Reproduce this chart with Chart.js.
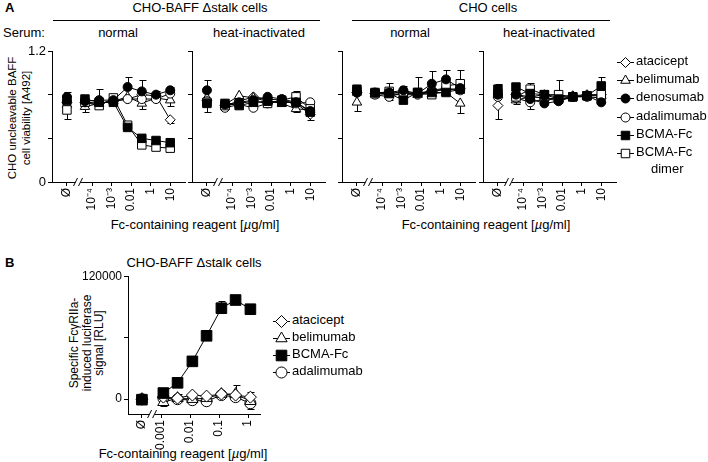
<!DOCTYPE html>
<html>
<head>
<meta charset="utf-8">
<script src="https://cdn.jsdelivr.net/npm/chart.js@4.4.1/dist/chart.umd.min.js"></script>
<style>
body { margin: 0; background: #fff; width: 708px; height: 462px; position: relative; overflow: hidden;
       font-family: 'Liberation Sans', Arial, sans-serif; color: #000; }
.t { position: absolute; white-space: nowrap; font-size: 13px; line-height: 13px; }
.c { transform: translateX(-50%); }
.rule { position: absolute; height: 0; border-top: 1px solid #000; }
.rot { position: absolute; transform: translate(-50%, -50%) rotate(-90deg); text-align: center; white-space: nowrap; }
canvas { position: absolute; }
.leg { position: absolute; font-size: 13px; line-height: 13px; white-space: nowrap; }
.leg canvas { position: static; vertical-align: middle; margin-right: 2px; }
</style>
</head>
<body>

<div class="t" style="left:5px;top:1px;font-weight:bold">A</div>
<div class="t c" style="left:200px;top:1px">CHO-BAFF Δstalk cells</div>
<div class="rule" style="left:53px;width:267px;top:20px"></div>
<div class="t c" style="left:488px;top:1px">CHO cells</div>
<div class="rule" style="left:352px;width:258px;top:20px"></div>
<div class="t" style="left:3px;top:26px">Serum:</div>
<div class="t c" style="left:118px;top:26px">normal</div>
<div class="t c" style="left:259px;top:26px">heat-inactivated</div>
<div class="t c" style="left:410px;top:26px">normal</div>
<div class="t c" style="left:549px;top:26px">heat-inactivated</div>
<div class="rot" style="left:19px;top:118px;font-size:11.5px;line-height:14px">CHO uncleavable BAFF<br>cell viability [A492]</div>
<div class="t c" style="left:195px;top:218px">Fc-containing reagent [<i>µ</i>g/ml]</div>
<div class="t c" style="left:486px;top:218px">Fc-containing reagent [<i>µ</i>g/ml]</div>

<div class="t" style="left:5px;top:256px;font-weight:bold">B</div>
<div class="t c" style="left:194px;top:256px">CHO-BAFF Δstalk cells</div>
<div class="rot" style="left:87px;top:343px;font-size:12px;line-height:12.5px">Specific FcγRIIa-<br>induced luciferase<br>signal [RLU]</div>
<div class="t c" style="left:183px;top:447px">Fc-containing reagent [<i>µ</i>g/ml]</div>

<script>
// Panel A: cell viability, series and dilution steps
const seriesA = ['atacicept', 'belimumab', 'denosumab', 'adalimumab', 'BCMA-Fc', 'BCMA-Fc dimer'];
const aDosePos = [-0.27, 1, 2, 3, 4, 5, 6, 7];   // first = Ø (no reagent), then the dilution steps
const aTickPos = [-0.27, 1.5, 2.87, 4.25, 5.62, 7];
const aTickLabels = ['Ø', '10⁻⁴', '10⁻³', '0.01', '1', '10'];
const aYTicks = [0, 0.4, 0.8, 1.2];

// CHO-BAFF Δstalk, normal serum
const a1Values = [
  [0.73, 0.73, 0.72, 0.74, 0.76, 0.80, 0.79, 0.57],
  [0.71, 0.69, 0.72, 0.74, 0.78, 0.72, 0.77, 0.75],
  [0.78, 0.74, 0.75, 0.75, 0.87, 0.83, 0.80, 0.84],
  [0.74, 0.73, 0.72, 0.74, 0.76, 0.76, 0.76, 0.81],
  [0.75, 0.76, 0.73, 0.73, 0.50, 0.40, 0.38, 0.36],
  [0.66, 0.73, 0.70, 0.77, 0.52, 0.34, 0.32, 0.31]
];
const a1Errors = [
  [0, 0, 0, 0, 0, 0.03, 0, -0.03],
  [0, -0.05, 0, 0, 0, -0.05, 0, -0.05],
  [0.04, 0, 0.10, 0, 0.09, 0.10, 0.03, 0.03],
  [0, 0, 0, 0, 0, 0, 0, 0],
  [0, 0, 0, 0, 0, 0, 0, 0],
  [-0.08, 0, 0, 0, 0, 0, 0, 0]
];
// CHO-BAFF Δstalk, heat-inactivated serum
const a2Values = [
  [0.75, 0.70, 0.74, 0.78, 0.76, 0.75, 0.72, 0.62],
  [0.77, 0.71, 0.79, 0.77, 0.74, 0.72, 0.67, 0.66],
  [0.84, 0.71, 0.73, 0.75, 0.78, 0.76, 0.73, 0.65],
  [0.74, 0.68, 0.71, 0.68, 0.72, 0.74, 0.72, 0.73],
  [0.72, 0.72, 0.70, 0.73, 0.74, 0.73, 0.73, 0.64],
  [0.73, 0.70, 0.72, 0.74, 0.72, 0.75, 0.78, 0.67]
];
const a2Errors = [
  [0, 0, 0, 0, 0, 0, 0, 0],
  [0, 0, 0, 0, 0, 0, -0.03, 0],
  [0.09, 0, 0, 0, 0, 0, 0, -0.08],
  [0, 0, 0, 0, 0, 0, 0, 0],
  [-0.08, 0, 0, 0, 0, 0, 0, 0],
  [0, 0, 0, 0, 0, 0, 0.05, 0]
];
// CHO cells, normal serum
const a3Values = [
  [0.82, 0.81, 0.81, 0.82, 0.81, 0.84, 0.84, 0.86],
  [0.73, 0.81, 0.80, 0.80, 0.80, 0.81, 0.82, 0.72],
  [0.82, 0.82, 0.82, 0.84, 0.81, 0.90, 0.94, 0.86],
  [0.82, 0.80, 0.78, 0.82, 0.80, 0.84, 0.86, 0.84],
  [0.85, 0.82, 0.81, 0.75, 0.82, 0.82, 0.82, 0.85],
  [0.83, 0.81, 0.83, 0.81, 0.82, 0.80, 0.88, 0.90]
];
const a3Errors = [
  [0, 0, 0, 0, 0, 0, 0, 0],
  [-0.08, 0, 0, 0, 0, 0, 0, -0.09],
  [0, 0, 0, 0.04, 0.15, 0.12, 0.09, 0],
  [0, 0, -0.03, 0, 0, 0, 0, 0],
  [0, 0, 0, 0, 0, 0, 0, 0],
  [0, 0, 0.08, 0, 0, 0, 0, 0.13]
];
// CHO cells, heat-inactivated serum
const a4Values = [
  [0.70, 0.80, 0.78, 0.80, 0.78, 0.79, 0.80, 0.80],
  [0.80, 0.75, 0.78, 0.77, 0.76, 0.78, 0.79, 0.79],
  [0.80, 0.80, 0.76, 0.72, 0.74, 0.78, 0.79, 0.73],
  [0.78, 0.77, 0.73, 0.76, 0.75, 0.78, 0.78, 0.77],
  [0.85, 0.87, 0.81, 0.80, 0.76, 0.78, 0.79, 0.88],
  [0.81, 0.78, 0.85, 0.80, 0.80, 0.78, 0.79, 0.80]
];
const a4Errors = [
  [-0.12, 0, 0, 0, 0, 0, 0, 0],
  [0, -0.04, 0, 0, 0, 0, 0, 0],
  [0, 0, 0, 0, 0, 0, 0, 0],
  [0, 0, -0.06, 0, 0, 0, 0, 0],
  [0.05, 0, 0, 0, 0, 0, 0, 0.08],
  [0, 0, 0.06, 0, 0.13, 0, 0, 0]
];

// Panel B: FcγRIIa reporter signal
const seriesB = ['atacicept', 'belimumab', 'BCMA-Fc', 'adalimumab'];
const bDoses = [0.0012, 0.0037, 0.012, 0.037, 0.12, 0.37, 1.2];   // µg/ml
const bBlankPos = -3.66;   // log10 position of the Ø column
const bTickPos = [-3.66, -3, -2, -1, 0];
const bTickLabels = ['Ø', '0.001', '0.01', '0.1', '1'];
const bYTicks = [0, 60000, 120000];
const bValues = [
  [0, 2000, 1000, 4000, 3000, 5000, 4000, 2000],
  [0, -3000, 1000, 0, 1000, 5000, 5000, -2000],
  [-500, 6000, 16000, 37000, 62000, 89000, 97000, 88000],
  [0, 1000, 0, -1000, -2000, 4000, 2000, -4000]
];
const bErrors = [
  [0, 0, 4000, 0, 0, 0, 0, 0],
  [0, -4000, 0, 0, 0, 0, 9000, -8000],
  [0, 0, 0, 0, 6000, 7500, 0, 0],
  [0, 0, 0, 0, 0, 0, 0, 11000]
];

Chart.defaults.font.family = "'Liberation Sans', Arial, sans-serif";
Chart.defaults.color = '#000';

const markA = [
  { style: 'rectRot', fill: '#fff', r: 5, order: 5 },
  { style: 'triangle', fill: '#fff', r: 5.5, order: 4 },
  { style: 'circle', fill: '#000', r: 4.5, order: 1 },
  { style: 'circle', fill: '#fff', r: 4.5, order: 3 },
  { style: 'rect', fill: '#000', r: 6, order: 0 },
  { style: 'rect', fill: '#fff', r: 6, order: 2 }
];
const markB = [
  { style: 'rectRot', fill: '#fff', r: 6, order: 1 },
  { style: 'triangle', fill: '#fff', r: 6.5, order: 2 },
  { style: 'rect', fill: '#000', r: 7.5, order: 0 },
  { style: 'circle', fill: '#fff', r: 5.5, order: 3 }
];

// error bars drawn under the markers
const errorBars = {
  id: 'errorBars',
  beforeDatasetsDraw(chart) {
    const ctx = chart.ctx, ys = chart.scales.y;
    ctx.save();
    ctx.strokeStyle = '#000';
    ctx.lineWidth = 1;
    chart.data.datasets.forEach((ds, i) => {
      if (!ds.errors) return;
      chart.getDatasetMeta(i).data.forEach((pt, j) => {
        const e = ds.errors[j];
        if (!e) return;
        const x = Math.round(pt.x) + 0.5;
        const y2 = Math.round(ys.getPixelForValue(ds.data[j].y + e)) + 0.5;
        ctx.beginPath();
        ctx.moveTo(x, pt.y);
        ctx.lineTo(x, y2);
        ctx.moveTo(x - 3, y2);
        ctx.lineTo(x + 4, y2);
        ctx.stroke();
      });
    });
    ctx.restore();
  }
};

// "//" break on the x axis between Ø and the doses
const axisBreak = {
  id: 'axisBreak',
  afterDraw(chart, args, opts) {
    if (opts.at === undefined) return;
    const ctx = chart.ctx;
    const x = chart.scales.x.getPixelForValue(opts.at);
    const y = chart.chartArea.bottom;
    ctx.save();
    ctx.fillStyle = '#fff';
    ctx.fillRect(x - 2.5, y - 2, 5, 4);
    ctx.strokeStyle = '#000';
    ctx.lineWidth = 1;
    [-2.5, 2.5].forEach(d => {
      ctx.beginPath();
      ctx.moveTo(x + d - 2, y + 4);
      ctx.lineTo(x + d + 2, y - 4);
      ctx.stroke();
    });
    ctx.restore();
  }
};

function makeChart(o) {
  const cv = document.createElement('canvas');
  cv.width = o.w;
  cv.height = o.h;
  cv.style.left = o.left + 'px';
  cv.style.top = o.top + 'px';
  document.body.appendChild(cv);

  const datasets = o.values.map((vals, i) => ({
    label: o.names[i],
    data: vals.map((v, j) => ({ x: o.xs[j], y: v })),
    errors: o.errors[i],
    order: o.marks[i].order,
    borderColor: '#000',
    borderWidth: 1,
    pointStyle: o.marks[i].style,
    pointRadius: o.marks[i].r,
    pointBackgroundColor: o.marks[i].fill,
    pointBorderColor: '#000',
    pointBorderWidth: 1,
    tension: 0,
    clip: false,
    segment: { borderColor: c => c.p0DataIndex === 0 ? 'rgba(0,0,0,0)' : '#000' }
  }));

  return new Chart(cv.getContext('2d'), {
    type: 'line',
    data: { datasets },
    options: {
      responsive: false,
      animation: false,
      devicePixelRatio: 1,
      layout: { padding: { top: o.pt, right: o.pr, left: 0, bottom: 0 } },
      plugins: { legend: { display: false }, tooltip: { enabled: false }, axisBreak: { at: o.breakAt } },
      scales: {
        x: {
          type: 'linear', min: o.xMin, max: o.xMax,
          afterBuildTicks: s => { s.ticks = o.xTicks.map(v => ({ value: v })); },
          afterFit: s => { s.height = o.xh; s.paddingLeft = 0; s.paddingRight = 0; },
          ticks: { autoSkip: false, maxRotation: 90, minRotation: 90, padding: 2,
                   font: { size: 12 }, callback: (v, i) => o.xLabels[i] },
          grid: { drawOnChartArea: false, tickLength: 4, color: '#000', lineWidth: 1 },
          border: { display: true, color: '#000', width: 1 }
        },
        y: {
          min: o.yMin, max: o.yMax,
          afterBuildTicks: s => { s.ticks = o.yTicks.map(v => ({ value: v })); },
          afterFit: s => { s.width = o.yw; s.paddingTop = 0; s.paddingBottom = 0; },
          ticks: { display: o.showY, padding: 2, font: { size: o.yFont },
                   callback: (v, i) => (i === 0 || i === o.yTicks.length - 1) ? String(v) : '' },
          grid: { drawOnChartArea: false, tickLength: 4, color: '#000', lineWidth: 1 },
          border: { display: true, color: '#000', width: 1 }
        }
      }
    },
    plugins: [errorBars, axisBreak]
  });
}

const aPanels = [
  { axisX: 52, values: a1Values, errors: a1Errors, showY: true },
  { axisX: 192, values: a2Values, errors: a2Errors, showY: false },
  { axisX: 342, values: a3Values, errors: a3Errors, showY: false },
  { axisX: 483, values: a4Values, errors: a4Errors, showY: false }
];
aPanels.forEach(p => makeChart({
  left: p.axisX - 30, top: 44, w: 171, h: 182, yw: 30, pt: 6, pr: 8, xh: 44,
  names: seriesA, values: p.values, errors: p.errors, marks: markA, xs: aDosePos,
  xMin: -1.32, xMax: 8.04, xTicks: aTickPos, xLabels: aTickLabels, breakAt: 0.51,
  yMin: 0, yMax: 1.2, yTicks: aYTicks, showY: p.showY, yFont: 13
}));

makeChart({
  left: 78, top: 268, w: 194, h: 188, yw: 50, pt: 8, pr: 12, xh: 42,
  names: seriesB, values: bValues, errors: bErrors, marks: markB,
  xs: [bBlankPos].concat(bDoses.map(d => Math.log10(d))),
  xMin: -4.14, xMax: 0.41, xTicks: bTickPos, xLabels: bTickLabels, breakAt: -3.31,
  yMin: -14500, yMax: 120000, yTicks: bYTicks, showY: true, yFont: 12
});

// legends: line stub with marker, as in the figure
function drawMarker(g, x, y, m) {
  g.beginPath();
  if (m.style === 'circle') {
    g.arc(x, y, m.r, 0, Math.PI * 2);
  } else if (m.style === 'rect') {
    const s = m.r * Math.SQRT1_2;
    g.rect(x - s, y - s, 2 * s, 2 * s);
  } else if (m.style === 'rectRot') {
    g.moveTo(x, y - m.r); g.lineTo(x + m.r, y); g.lineTo(x, y + m.r); g.lineTo(x - m.r, y);
    g.closePath();
  } else if (m.style === 'triangle') {
    for (let k = 0; k < 3; k++) {
      const a = k * 2 * Math.PI / 3;
      const px = x + Math.sin(a) * m.r, py = y - Math.cos(a) * m.r;
      if (k === 0) g.moveTo(px, py); else g.lineTo(px, py);
    }
    g.closePath();
  }
  g.fillStyle = m.fill;
  g.fill();
  g.strokeStyle = '#000';
  g.lineWidth = 1;
  g.stroke();
}

function legend(names, marks, left, top, rowH, iconW) {
  names.forEach((name, i) => {
    const row = document.createElement('div');
    row.className = 'leg';
    row.style.left = left + 'px';
    row.style.top = (top + i * rowH) + 'px';
    const c = document.createElement('canvas');
    c.width = iconW;
    c.height = 16;
    const g = c.getContext('2d');
    g.strokeStyle = '#000';
    g.lineWidth = 1;
    g.beginPath();
    g.moveTo(0, 8.5);
    g.lineTo(iconW, 8.5);
    g.stroke();
    drawMarker(g, iconW / 2, 8.5, marks[i]);
    row.appendChild(c);
    const parts = name === 'BCMA-Fc dimer' ? ['BCMA-Fc', 'dimer'] : [name];
    row.appendChild(document.createTextNode(parts[0]));
    document.body.appendChild(row);
    if (parts[1]) {
      const d = document.createElement('div');
      d.className = 'leg';
      d.style.left = (left + iconW + 17) + 'px';
      d.style.top = (top + i * rowH + 17) + 'px';
      d.textContent = parts[1];
      document.body.appendChild(d);
    }
  });
}
legend(seriesA, markA, 617, 54, 18.2, 17);
legend(seriesB, markB, 273, 313, 17, 17);
</script>
</body>
</html>
